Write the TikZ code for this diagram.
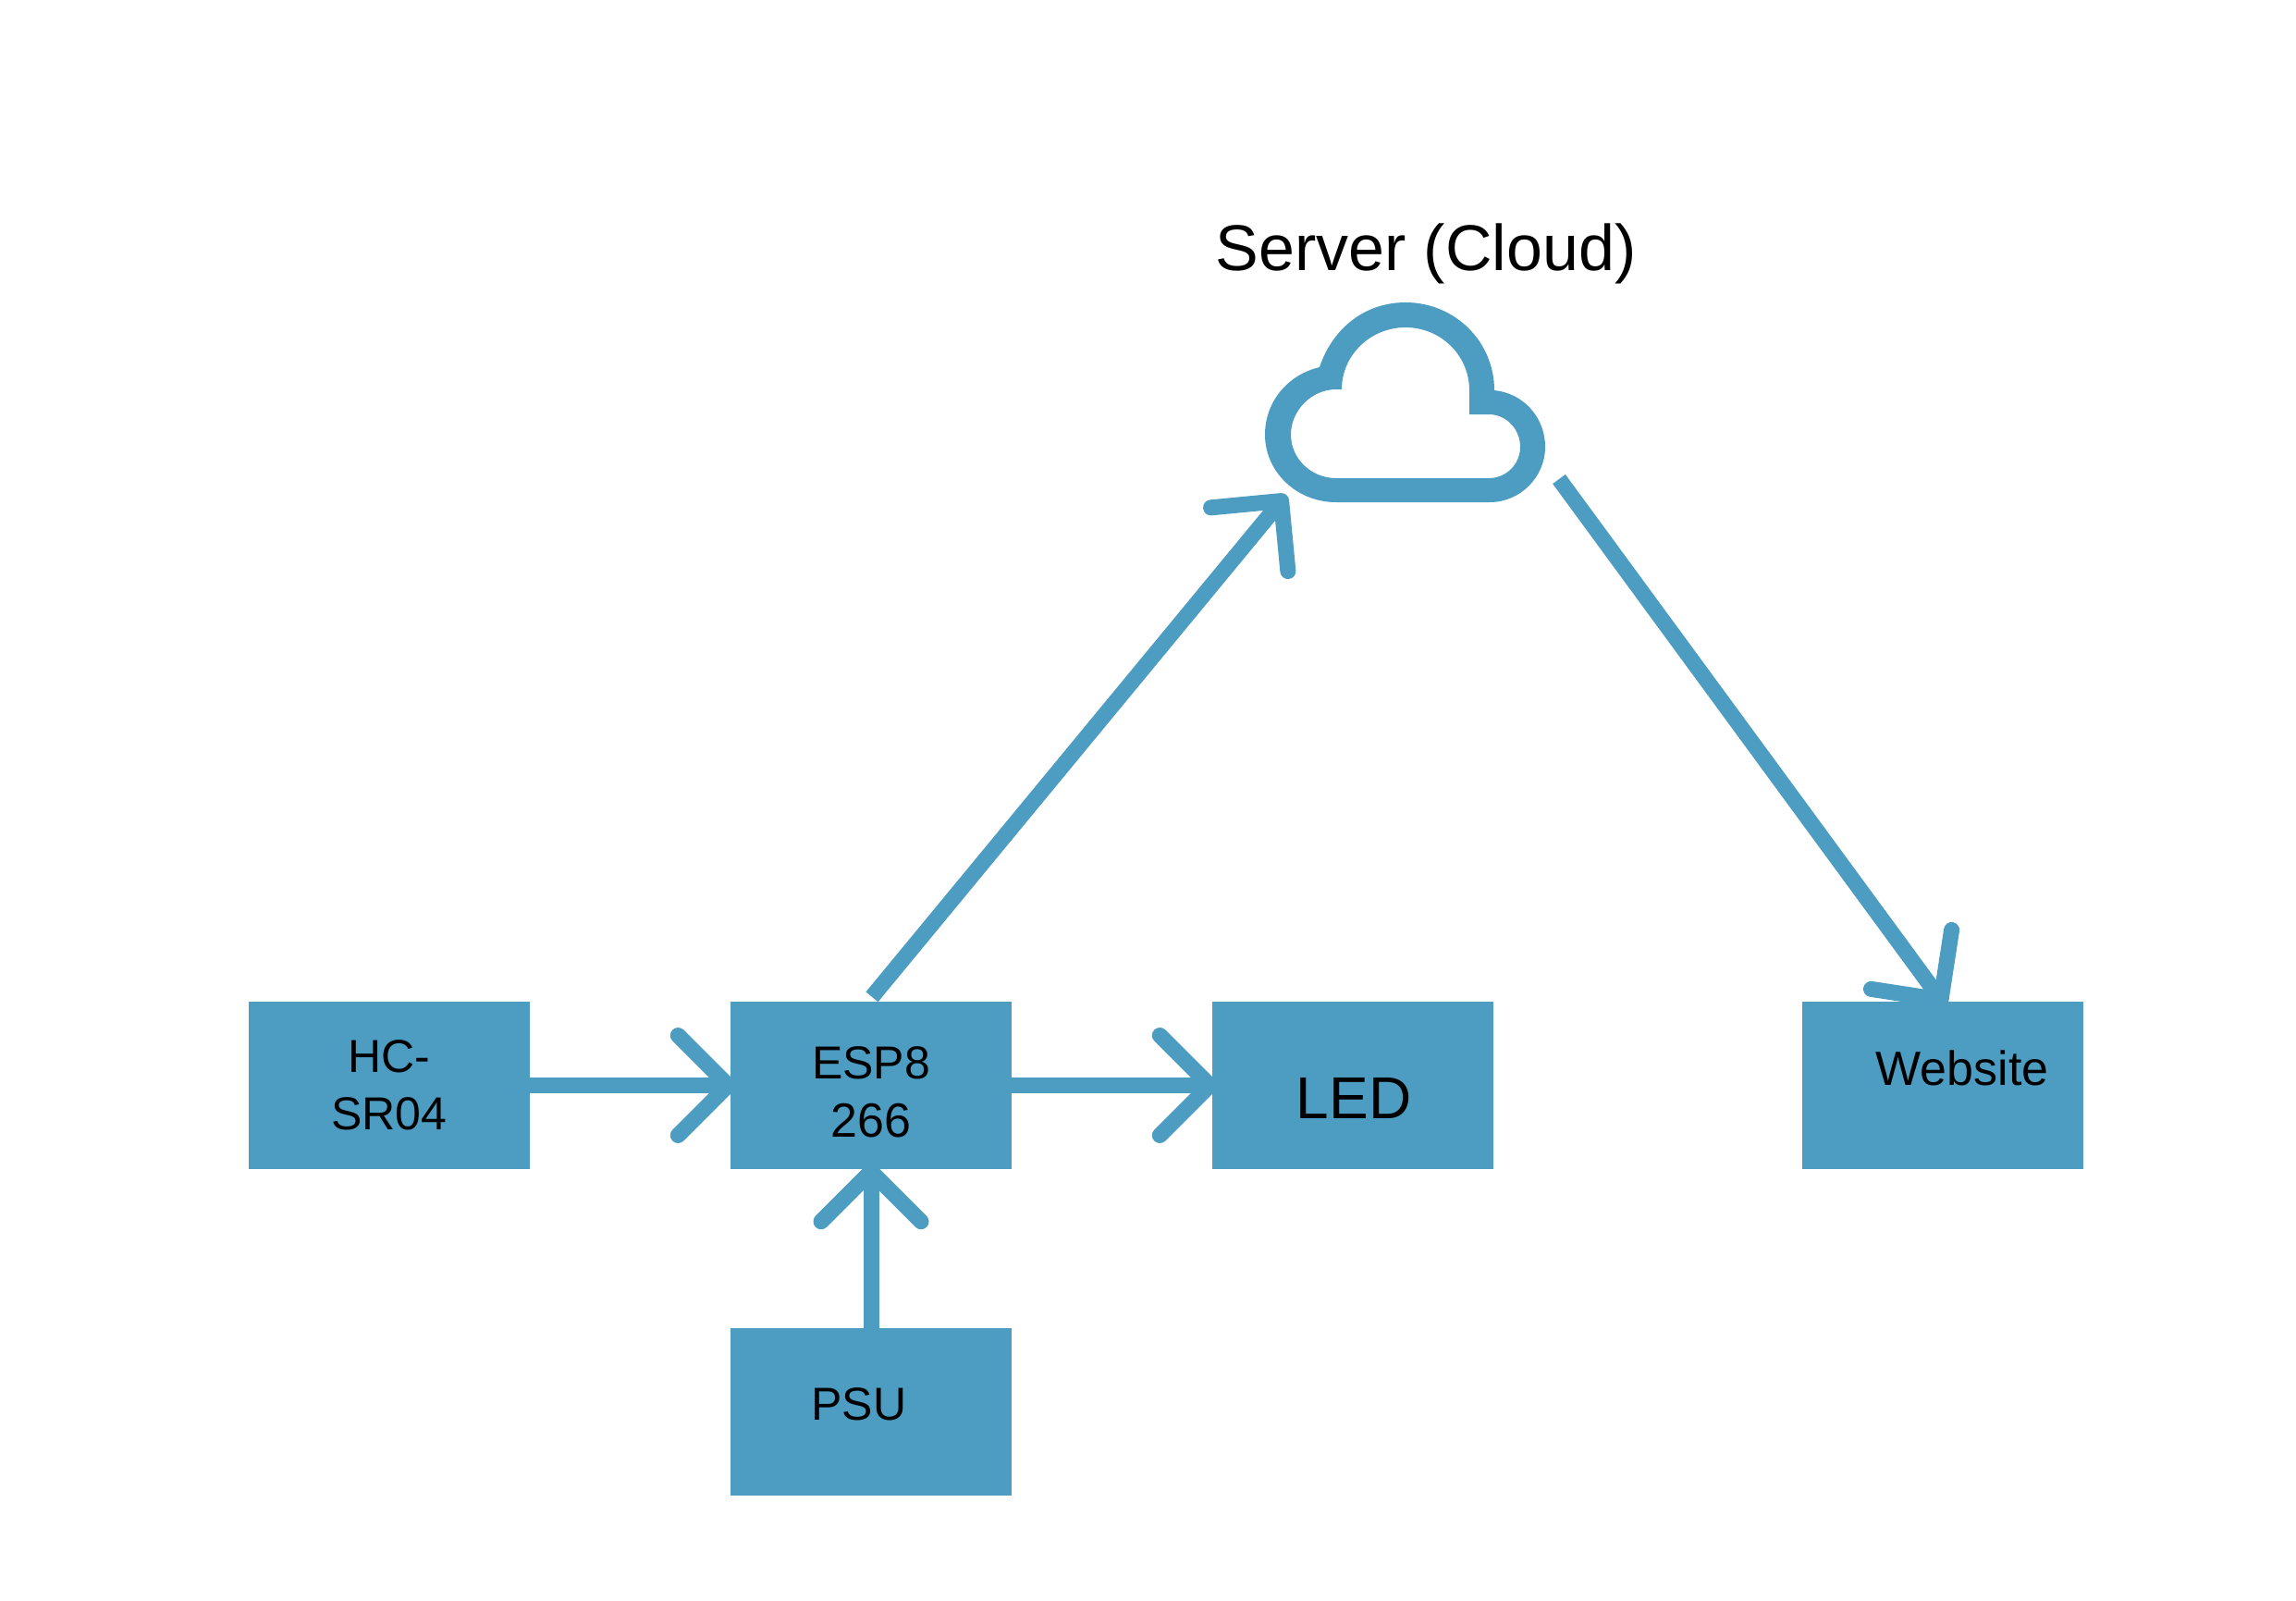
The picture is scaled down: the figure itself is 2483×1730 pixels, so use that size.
\documentclass[tikz,border=0pt]{standalone}
\usepackage{fontspec}
\setmainfont{Liberation Sans}
\usetikzlibrary{arrows.meta}
\definecolor{blk}{HTML}{4C9DC1}
\tikzset{
  block/.style={fill=blk,draw=none,inner sep=0pt,minimum width=304pt,minimum height=181pt},
  lbl/.style={anchor=base,inner sep=0pt,text=black,font=\fontsize{50pt}{60pt}\selectfont},
  conn/.style={draw=blk,line width=17pt,-{Straight Barb[length=54pt,width=108pt,line width=17pt,round]}}
}
\begin{document}
\begin{tikzpicture}[x=1pt,y=-1pt]
\useasboundingbox (0,0) rectangle (2483,1730);
\node[block] (hc) at (421,1173.5) {};
\node[block] (esp) at (942,1173.5) {};
\node[block] (led) at (1463,1173.5) {};
\node[block] (web) at (2101,1173.5) {};
\node[block] (psu) at (942,1526.5) {};
% cloud
\fill[blk,even odd rule]
  (1427,397) .. controls (1441,355) and (1476,327) .. (1520,327)
  .. controls (1573,327) and (1616,369) .. (1616,422)
  .. controls (1647,425) and (1671,451) .. (1671,483)
  .. controls (1671,516) and (1644,543) .. (1611,543)
  -- (1445,543)
  .. controls (1402,543) and (1368,510) .. (1368,470)
  .. controls (1368,434) and (1393,405) .. (1427,397) -- cycle
  (1451,421) .. controls (1451,384) and (1482,354) .. (1520,354)
  .. controls (1558,354) and (1589,384) .. (1589,422)
  -- (1589,448) -- (1610,448)
  .. controls (1629,448) and (1644,464) .. (1644,483)
  .. controls (1644,502) and (1629,517) .. (1610,517)
  -- (1445,517)
  .. controls (1418,517) and (1396,496) .. (1396,470)
  .. controls (1396,444) and (1418,421) .. (1445,421) -- cycle;
\coordinate (cloudin) at (1391,535);
\coordinate (cloudout) at (1686,518);
% connectors
\draw[conn] (hc.east) -- ([xshift=6pt]esp.west);
\draw[conn] (esp.east) -- ([xshift=6pt]led.west);
\draw[conn] (psu.north) -- ([yshift=6pt]esp.south);
\draw[conn] ([xshift=1pt,yshift=5pt]esp.north) -- (cloudin);
\draw[conn] (cloudout) -- ([xshift=3pt,yshift=-5pt]web.north);
% labels
\node[lbl] (hctxt1) at (421,1159) {HC-};
\node[lbl] (hctxt2) at (421,1221) {SR04};
\node[lbl] (esptxt1) at (942,1166) {ESP8};
\node[lbl,font=\fontsize{52pt}{60pt}\selectfont] (esptxt2) at (942,1229) {266};
\node[lbl,font=\fontsize{64pt}{70pt}\selectfont] (ledtxt) at (1464,1209) {LED};
\node[lbl,font=\fontsize{52pt}{60pt}\selectfont] (webtxt) at (2122,1173) {Website};
\node[lbl] (psutxt) at (929,1535) {PSU};
\node[lbl,font=\fontsize{70pt}{80pt}\selectfont] (srv) at (1542,292) {Server (Cloud)};
\end{tikzpicture}
\end{document}
